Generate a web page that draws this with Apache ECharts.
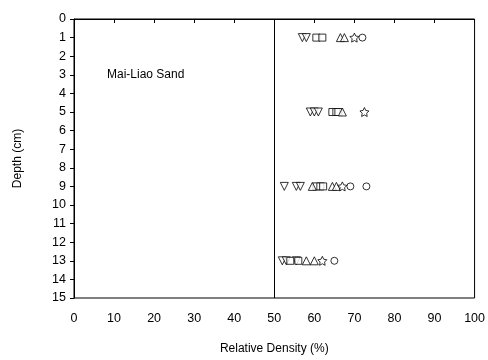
<!DOCTYPE html>
<html>
<head>
<meta charset="utf-8">
<script src="https://cdn.jsdelivr.net/npm/echarts@6/dist/echarts.min.js"></script>
<style>
  html, body { margin: 0; padding: 0; background: #fff; }
  #chart { width: 488px; height: 360px; }
</style>
</head>
<body>
<div id="chart"></div>
<script>
// Relative density measurements [density %, depth cm], grouped by test marker
const invTriangle = [[57, 1], [58, 1], [59, 5], [60, 5], [61, 5], [52.5, 9], [55.5, 9], [56.5, 9], [52, 13], [53, 13], [55.5, 13]];
const square = [[60.5, 1], [62, 1], [64.5, 5], [65.5, 5], [66, 5], [60.5, 9], [61.5, 9], [62.2, 9], [54, 13], [56, 13]];
const triangle = [[66.5, 1], [67.5, 1], [67, 5], [59.5, 9], [64.5, 9], [65.5, 9], [58, 13], [60, 13]];
const star = [[70, 1], [72.5, 5], [67, 9], [62, 13]];
const circle = [[72, 1], [69, 9], [73, 9], [65, 13]];

const xTicks = { min: 0, max: 100, step: 10 };
const yTicks = { min: 0, max: 15, step: 1 };
const dividerDensity = 50;
const siteLabel = 'Mai-Liao Sand';

const starPath = 'path://M0,-10L2.94,-4.05L9.51,-3.09L4.76,1.55L5.88,8.09L0,5L-5.88,8.09L-4.76,1.55L-9.51,-3.09L-2.94,-4.05Z';

const font = 'Liberation Sans, Arial, sans-serif';

function markerSeries(data, symbol, size, rotate) {
  return {
    type: 'scatter',
    data: data,
    symbol: symbol,
    symbolSize: size,
    symbolRotate: rotate || 0,
    itemStyle: { color: '#fff', borderColor: '#000', borderWidth: 1 },
    emphasis: { disabled: true },
    z: 3
  };
}

const chart = echarts.init(document.getElementById('chart'), null, { renderer: 'canvas' });
chart.setOption({
  animation: false,
  backgroundColor: '#fff',
  grid: { left: 74, right: 10, top: 19, bottom: 62, show: true, borderColor: '#000', borderWidth: 1 },
  xAxis: {
    type: 'value', min: xTicks.min, max: xTicks.max, interval: xTicks.step,
    name: 'Relative Density (%)', nameLocation: 'middle', nameGap: 45,
    nameTextStyle: { fontFamily: font, fontSize: 12, color: '#000' },
    axisLine: { show: true, lineStyle: { color: '#000', width: 1 } },
    axisTick: { show: true, length: 4, lineStyle: { color: '#000' } },
    axisLabel: { fontFamily: font, fontSize: 12.5, color: '#000', margin: 14 },
    splitLine: { show: false }
  },
  yAxis: {
    type: 'value', inverse: true, min: yTicks.min, max: yTicks.max, interval: yTicks.step,
    name: 'Depth (cm)', nameLocation: 'middle', nameGap: 50, nameRotate: 90,
    nameTextStyle: { fontFamily: font, fontSize: 12, color: '#000' },
    axisLine: { show: true, lineStyle: { color: '#000', width: 1 } },
    axisTick: { show: true, length: 4, lineStyle: { color: '#000' } },
    axisLabel: { fontFamily: font, fontSize: 12.5, color: '#000', margin: 8 },
    splitLine: { show: false }
  },
  graphic: [{
    type: 'text', left: 107, top: 69,
    style: { text: siteLabel, fontFamily: font, fontSize: 12, fill: '#000' }
  }],
  series: [
    Object.assign(markerSeries(invTriangle, 'triangle', 8, 180), {
      markLine: {
        silent: true, symbol: ['none', 'none'], label: { show: false },
        lineStyle: { color: '#000', width: 1, type: 'solid' },
        data: [{ xAxis: dividerDensity }]
      }
    }),
    markerSeries(square, 'rect', 7),
    markerSeries(triangle, 'triangle', 8),
    markerSeries(star, starPath, 9),
    markerSeries(circle, 'circle', 7)
  ]
});
</script>
</body>
</html>
